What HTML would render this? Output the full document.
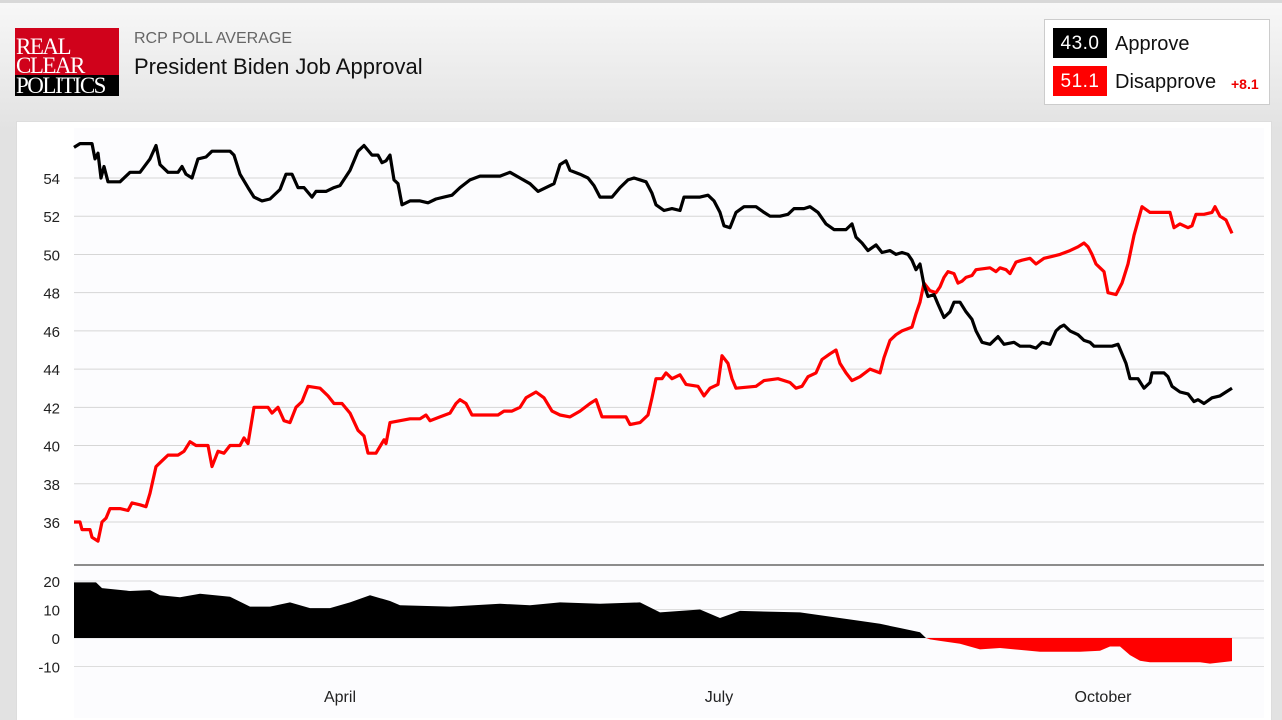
<!DOCTYPE html>
<html style="overflow:hidden;height:720px"><head><meta charset="utf-8"><style>
body{margin:0;width:1282px;height:720px;overflow:hidden;background:linear-gradient(#f8f8f8,#e2e2e2 130px,#e2e2e2);font-family:"Liberation Sans",sans-serif;position:relative}
.top{position:absolute;left:0;top:0;width:1282px;height:3px;background:#d8d8d8}
.logo{position:absolute;left:15px;top:28px;width:104px;height:68px;overflow:hidden}
.r{position:absolute;left:0;top:0;width:104px;height:47px;background:#d0021b}
.b{position:absolute;left:0;top:47px;width:104px;height:21px;background:#000}
.logo span{position:absolute;left:1px;font-family:"Liberation Serif",serif;font-size:23px;line-height:20px;color:#fff;letter-spacing:-1.5px}
.sub{position:absolute;left:134px;top:30px;font-size:16px;color:#666}
.title{position:absolute;left:134px;top:54px;font-size:22px;color:#111}
.leg{position:absolute;left:1044px;top:19px;width:224px;height:84px;background:#fff;border:1px solid #ccc}
.v{position:absolute;left:8px;width:54px;height:30px;color:#fff;font-size:19px;line-height:31px;text-align:center;letter-spacing:0.5px}
.l{position:absolute;left:70px;font-size:20px;color:#111}
.panel{position:absolute;left:16px;top:121px;width:1254px;height:600px;background:#fff;border:1px solid #ddd}
svg{position:absolute;left:0;top:0}
</style></head><body>
<div class="top"></div>
<div class="logo"><div class="r"></div><div class="b"></div><span style="top:9px">REAL</span><span style="top:28px">CLEAR</span><span style="top:48px">POLITICS</span></div>
<div class="sub">RCP POLL AVERAGE</div>
<div class="title">President Biden Job Approval</div>
<div class="leg">
<div class="v" style="top:8px;background:#000">43.0</div><div class="l" style="top:13px">Approve</div>
<div class="v" style="top:46px;background:#f00">51.1</div><div class="l" style="top:51px">Disapprove</div>
<div style="position:absolute;left:186px;top:56px;color:#e00;font-size:14px;font-weight:bold">+8.1</div>
</div>
<div class="panel"></div>
<svg width="1282" height="720" id="s" font-family="Liberation Sans, sans-serif"></svg>
<script>
var A=[74,55.6,80,55.8,92,55.8,95,55,98,55.3,101,54,104,54.6,108,53.8,120,53.8,130,54.3,140,54.3,150,55,156,55.7,160,54.7,168,54.3,178,54.3,182,54.6,186,54.2,192,54,198,55,206,55.1,212,55.4,230,55.4,234,55.2,240,54.2,248,53.5,254,53,262,52.8,270,52.9,280,53.4,286,54.2,292,54.2,298,53.5,304,53.5,312,53,316,53.3,326,53.3,334,53.5,340,53.6,350,54.4,358,55.4,364,55.7,372,55.2,378,55.2,382,54.8,386,54.9,390,55.2,394,53.9,398,53.7,402,52.6,410,52.8,420,52.8,428,52.7,436,52.9,444,53,452,53.1,460,53.5,470,53.9,480,54.1,500,54.1,510,54.3,520,54,530,53.7,538,53.3,546,53.5,554,53.7,560,54.7,566,54.9,570,54.4,580,54.2,588,54,594,53.6,600,53,612,53,620,53.5,628,53.9,634,54,646,53.8,652,53.2,656,52.6,664,52.3,672,52.4,680,52.3,684,53,700,53,708,53.1,714,52.8,720,52.2,724,51.5,730,51.4,736,52.2,744,52.5,756,52.5,764,52.2,770,52,780,52,788,52.1,794,52.4,804,52.4,810,52.5,818,52.2,826,51.6,834,51.3,846,51.3,852,51.6,856,50.9,862,50.6,868,50.2,876,50.5,882,50.1,890,50.2,896,50,902,50.1,908,50,912,49.7,916,49.2,920,49.5,924,48.4,928,47.8,934,47.9,938,47.4,944,46.7,950,47,954,47.5,960,47.5,966,47,972,46.6,976,46,982,45.4,990,45.3,998,45.7,1004,45.3,1014,45.4,1020,45.2,1030,45.2,1036,45.1,1042,45.4,1050,45.3,1056,46,1060,46.2,1064,46.3,1070,46,1078,45.8,1084,45.5,1090,45.4,1094,45.2,1100,45.2,1112,45.2,1118,45.3,1126,44.3,1130,43.5,1138,43.5,1144,43,1150,43.3,1152,43.8,1164,43.8,1168,43.6,1172,43.1,1180,42.8,1188,42.7,1194,42.3,1198,42.4,1204,42.2,1212,42.5,1220,42.6,1226,42.8,1232,43.0];
var D=[74,36,80,36,82,35.6,90,35.6,92,35.2,98,35,102,36,106,36.2,110,36.7,120,36.7,128,36.6,132,37,140,36.9,146,36.8,150,37.5,156,38.9,162,39.2,168,39.5,178,39.5,184,39.7,190,40.2,196,40,208,40,212,38.9,218,39.7,224,39.6,230,40,240,40,244,40.4,248,40.1,254,42,268,42,272,41.7,278,42,284,41.3,290,41.2,296,42,302,42.3,308,43.1,320,43,328,42.6,334,42.2,342,42.2,350,41.7,358,40.8,364,40.5,368,39.6,376,39.6,384,40.3,386,40.1,390,41.2,400,41.3,410,41.4,420,41.4,426,41.6,430,41.3,440,41.5,450,41.7,456,42.2,460,42.4,466,42.2,472,41.6,480,41.6,498,41.6,504,41.8,512,41.8,520,42,526,42.5,536,42.8,544,42.5,552,41.8,560,41.6,570,41.5,580,41.8,590,42.2,596,42.4,602,41.5,626,41.5,630,41.1,640,41.2,648,41.6,652,42.5,656,43.5,662,43.5,666,43.8,672,43.5,680,43.7,686,43.2,698,43.1,704,42.6,710,43,718,43.2,722,44.7,728,44.3,732,43.5,736,43,756,43.1,764,43.4,778,43.5,790,43.3,796,43,802,43.1,808,43.6,816,43.8,822,44.5,830,44.8,836,45,840,44.3,846,43.8,852,43.4,860,43.6,870,44,880,43.8,884,44.6,890,45.5,896,45.8,902,46,912,46.2,916,46.9,920,47.5,924,48.5,930,48.1,936,48,940,48.3,944,48.8,948,49.1,954,49,958,48.5,962,48.6,966,48.8,972,48.9,976,49.2,990,49.3,996,49.1,1000,49.3,1006,49.2,1010,49,1016,49.6,1022,49.7,1030,49.8,1036,49.5,1044,49.8,1052,49.9,1060,50,1070,50.2,1078,50.4,1084,50.6,1088,50.4,1092,50,1096,49.5,1100,49.3,1104,49.1,1108,48,1116,47.9,1122,48.5,1128,49.5,1134,51,1142,52.5,1150,52.2,1170,52.2,1174,51.4,1180,51.6,1188,51.4,1192,51.5,1196,52.1,1204,52.1,1212,52.2,1215,52.5,1220,52,1226,51.8,1232,51.1];
var S=[74,19.5,96,19.5,102,17.5,130,16.5,150,16.8,160,15,180,14.3,200,15.5,230,14.5,250,11,270,11,290,12.5,310,10.5,330,10.5,350,12.5,370,15,390,13,400,11.5,450,11,500,12,530,11.5,560,12.5,600,12,640,12.5,660,9,700,10,720,7,740,9.5,800,9,830,7.5,860,6,880,5,900,3.5,920,2,926,0,930,-0.5,940,-1,960,-2,980,-4,1000,-3.5,1040,-4.8,1080,-4.8,1100,-4.5,1110,-3,1120,-3,1130,-6,1140,-8,1150,-8.5,1200,-8.5,1210,-9,1232,-8.1];
function yu(v){return 178+(54-v)*19.11}
function yl(v){return 638-v*2.85}
var h='<rect x="74" y="128" width="1190" height="590" fill="#fcfcfe"/>';
for(var v=36;v<=54;v+=2){var y=yu(v);h+='<line x1="74" x2="1264" y1="'+y+'" y2="'+y+'" stroke="#d6d6d6"/><text x="60" y="'+(y+6)+'" text-anchor="end" font-size="15" fill="#222">'+v+'</text>';}
h+='<line x1="74" x2="1264" y1="565" y2="565" stroke="#666" stroke-width="1.5"/>';
[20,10,0,-10].forEach(function(v){var y=yl(v);h+='<line x1="74" x2="1264" y1="'+y+'" y2="'+y+'" stroke="#ddd"/><text x="60" y="'+(y+6)+'" text-anchor="end" font-size="15" fill="#222">'+v+'</text>';});
function path(a,f){var p='';for(var i=0;i<a.length;i+=2)p+=(i?'L':'M')+a[i]+','+f(a[i+1]).toFixed(1);return p;}
var pos=[],neg=[];for(var i=0;i<S.length;i+=2){pos.push(S[i],Math.max(0,S[i+1]));neg.push(S[i],Math.min(0,S[i+1]));}
h+='<path d="'+path(pos,yl)+'L1232,638L74,638Z" fill="#000"/>';
h+='<path d="'+path(neg,yl)+'L1232,638L74,638Z" fill="#f00"/>';
h+='<path d="'+path(D,yu)+'" fill="none" stroke="#f00" stroke-width="3.2" stroke-linejoin="round"/>';
h+='<path d="'+path(A,yu)+'" fill="none" stroke="#000" stroke-width="3.2" stroke-linejoin="round"/>';
[['April',340],['July',719],['October',1103]].forEach(function(m){h+='<text x="'+m[1]+'" y="702" text-anchor="middle" font-size="16" fill="#222">'+m[0]+'</text>';});
document.getElementById('s').innerHTML=h;
</script>
</body></html>
